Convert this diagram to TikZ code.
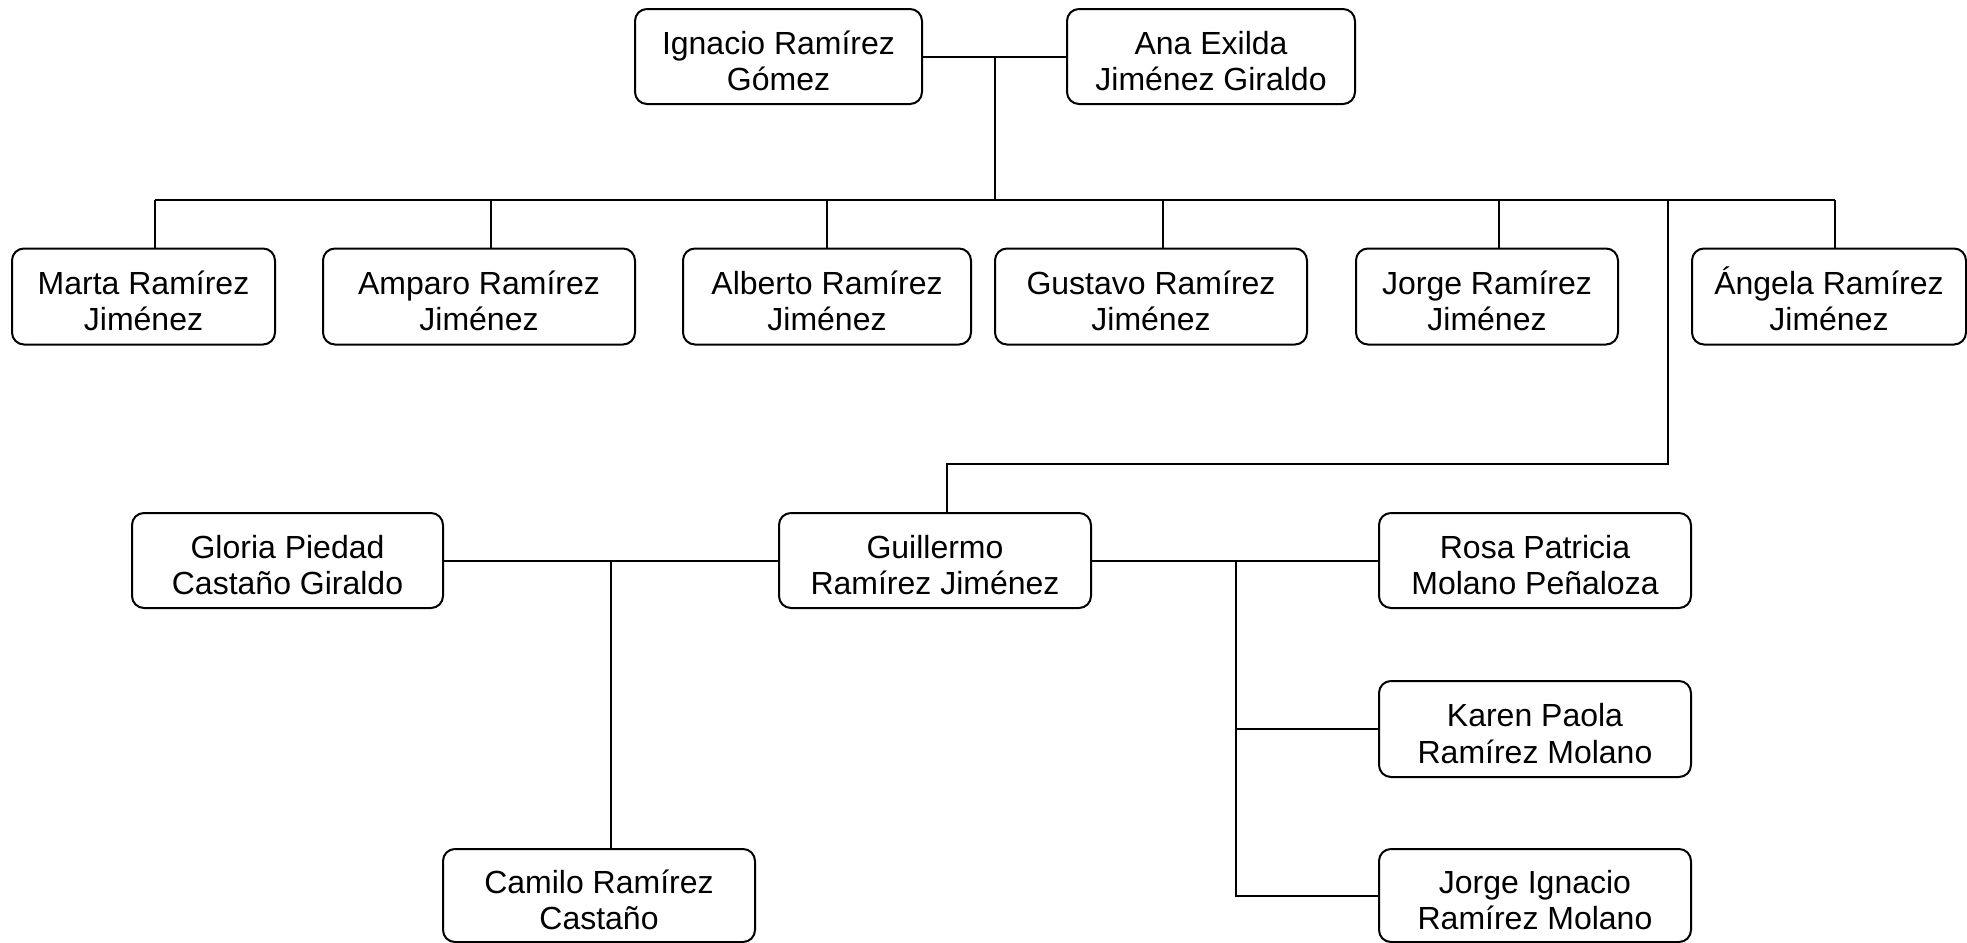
\documentclass[tikz,border=0pt]{standalone}
\usepackage{fontspec}
\setmainfont{Liberation Sans}
\newcommand\twoline[2]{\rule{0pt}{16pt}#1\\#2}
\begin{document}
\begin{tikzpicture}[x=0.5pt,y=-0.5pt,
  person/.style={draw=black, line width=1pt, rounded corners=6pt, rectangle,
    inner sep=0pt, align=center, minimum height=47.5pt,
    font=\fontsize{16}{18.2}\selectfont},
  link/.style={draw=black, line width=1pt}]
\useasboundingbox (0,0) rectangle (1967,943);
% generation 1
\node[person, minimum width=143.5pt] (ign) at (778.5,56.5) {\twoline{Ignacio Ramírez}{Gómez}};
\node[person, minimum width=144pt] (ana) at (1211,56.5) {\twoline{Ana Exilda}{Jiménez Giraldo}};
% generation 2
\node[person, minimum width=131.5pt, minimum height=48pt] (marta) at (143.5,296.5) {\twoline{Marta Ramírez}{Jiménez}};
\node[person, minimum width=156pt, minimum height=48pt] (amparo) at (479,296.5) {\twoline{Amparo Ramírez}{Jiménez}};
\node[person, minimum width=144pt, minimum height=48pt] (alberto) at (827,296.5) {\twoline{Alberto Ramírez}{Jiménez}};
\node[person, minimum width=156pt, minimum height=48pt] (gustavo) at (1151,296.5) {\twoline{Gustavo Ramírez}{Jiménez}};
\node[person, minimum width=131pt, minimum height=48pt] (jorge) at (1487,296.5) {\twoline{Jorge Ramírez}{Jiménez}};
\node[person, minimum width=137pt, minimum height=48pt] (angela) at (1829,296.5) {\twoline{Ángela Ramírez}{Jiménez}};
% generation 3
\node[person, minimum width=155.5pt] (glo) at (287.5,560.5) {\twoline{Gloria Piedad}{Castaño Giraldo}};
\node[person, minimum width=156pt] (guil) at (935,560.5) {\twoline{Guillermo}{Ramírez Jiménez}};
\node[person, minimum width=156pt] (rosa) at (1535,560.5) {\twoline{Rosa Patricia}{Molano Peñaloza}};
\node[person, minimum width=156pt, minimum height=48pt] (karen) at (1535,729) {\twoline{Karen Paola}{Ramírez Molano}};
\node[person, minimum width=156pt, minimum height=46.5pt] (jorgei) at (1535,895.5) {\twoline{Jorge Ignacio}{Ramírez Molano}};
\node[person, minimum width=156pt, minimum height=46.5pt] (cam) at (599,895.5) {\twoline{Camilo Ramírez}{Castaño}};
% connectors
\coordinate (m0) at (995,56.5);
\coordinate (m1) at (995,200);
\coordinate (bl) at (155,200);
\coordinate (br) at (1835,200);
\coordinate (bamp) at (491,200);
\coordinate (balb) at (827,200);
\coordinate (bgus) at (1163,200);
\coordinate (bjor) at (1499,200);
\coordinate (bgui) at (1668,200);
\coordinate (gk) at (947,464);
\coordinate (c1) at (611,560.5);
\coordinate (r1) at (1236,560.5);
\path[link] (ign.east) -- (ana.west);
\path[link] (m0) -- (m1);
\path[link] (bl) -- (br);
\path[link] (bl) -- (bl |- marta.north);
\path[link] (bamp) -- (bamp |- amparo.north);
\path[link] (balb) -- (balb |- alberto.north);
\path[link] (bgus) -- (bgus |- gustavo.north);
\path[link] (bjor) -- (bjor |- jorge.north);
\path[link] (br) -- (br |- angela.north);
\path[link] (bgui) |- (gk) -- (gk |- guil.north);
\path[link] (glo.east) -- (guil.west);
\path[link] (c1) -- (c1 |- cam.north);
\path[link] (guil.east) -- (rosa.west);
\path[link] (r1) |- (jorgei.west);
\path[link] (r1 |- karen.west) -- (karen.west);
\end{tikzpicture}
\end{document}
